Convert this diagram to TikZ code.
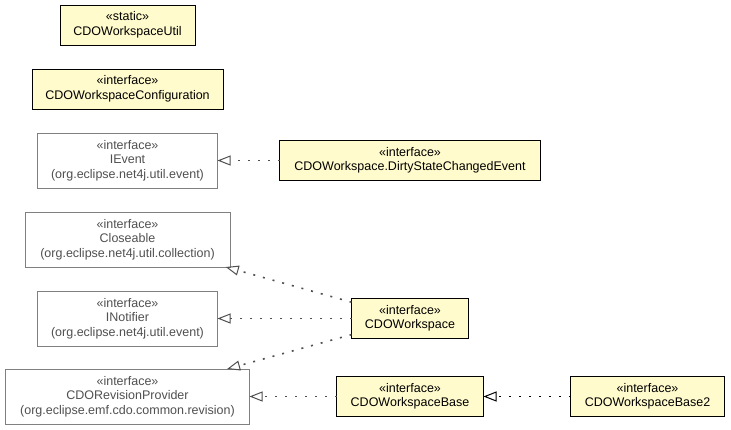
\documentclass[tikz,border=0pt]{standalone}
\usepackage{fontspec}
\setmainfont{Liberation Sans}
\usepackage{xcolor}
\usetikzlibrary{arrows.meta, positioning}

\definecolor{clsfill}{HTML}{FFFBCC}
\definecolor{extline}{HTML}{808080}
\definecolor{exttext}{HTML}{505050}
\definecolor{edgegray}{HTML}{505050}

\begin{document}
\begin{tikzpicture}[
  node distance=24pt and 87pt,
  every node/.style={draw, outer sep=0pt, align=center, inner sep=2pt,
                     font=\fontsize{12.5}{14.5}\selectfont},
  cls/.style={fill=clsfill, draw=black, line width=1pt, minimum height=40pt},
  ext/.style={fill=white, draw=extline, line width=1pt, text=exttext,
              minimum height=55pt},
  arr/.style={-{Triangle[open, length=13pt, width=10pt, line width=1pt]},
              line width=1.6pt, color=edgegray, dash pattern=on 2pt off 8pt}
]
  \useasboundingbox (0pt,0pt) rectangle (731pt,-429pt);

  % Left column
  \node[cls, minimum width=135pt] (util) at (127.5pt,-25pt)
       {«static»\\CDOWorkspaceUtil};
  \node[cls, minimum width=191pt] (conf) [below=of util]
       {«interface»\\CDOWorkspaceConfiguration};
  \node[ext, minimum width=180pt] (ievent) [below=of conf]
       {«interface»\\IEvent\\(org.eclipse.net4j.util.event)};
  \node[ext, minimum width=205pt] (close) [below=of ievent]
       {«interface»\\Closeable\\(org.eclipse.net4j.util.collection)};
  \node[ext, minimum width=180pt] (notif) [below=of close]
       {«interface»\\INotifier\\(org.eclipse.net4j.util.event)};
  \node[ext, minimum width=244pt] (revp) [below=23pt of notif]
       {«interface»\\CDORevisionProvider\\(org.eclipse.emf.cdo.common.revision)};

  % Right side
  \node[cls, minimum width=261pt] (dirty) [right=62pt of ievent]
       {«interface»\\CDOWorkspace.DirtyStateChangedEvent};
  \node[cls, minimum width=117pt] (ws) [right=134pt of notif]
       {«interface»\\CDOWorkspace};
  \node[cls, minimum width=147pt] (base) [right=of revp]
       {«interface»\\CDOWorkspaceBase};
  \node[cls, minimum width=154pt] (base2) [right=of base]
       {«interface»\\CDOWorkspaceBase2};

  % Realisations
  \draw[arr] (dirty) -- (ievent);
  \draw[arr] (ws)    -- (close);
  \draw[arr] (ws)    -- (notif);
  \draw[arr] (ws)    -- (revp);
  \draw[arr] (base)  -- (revp);
  \draw[arr, color=black] (base2) -- (base);
\end{tikzpicture}
\end{document}
